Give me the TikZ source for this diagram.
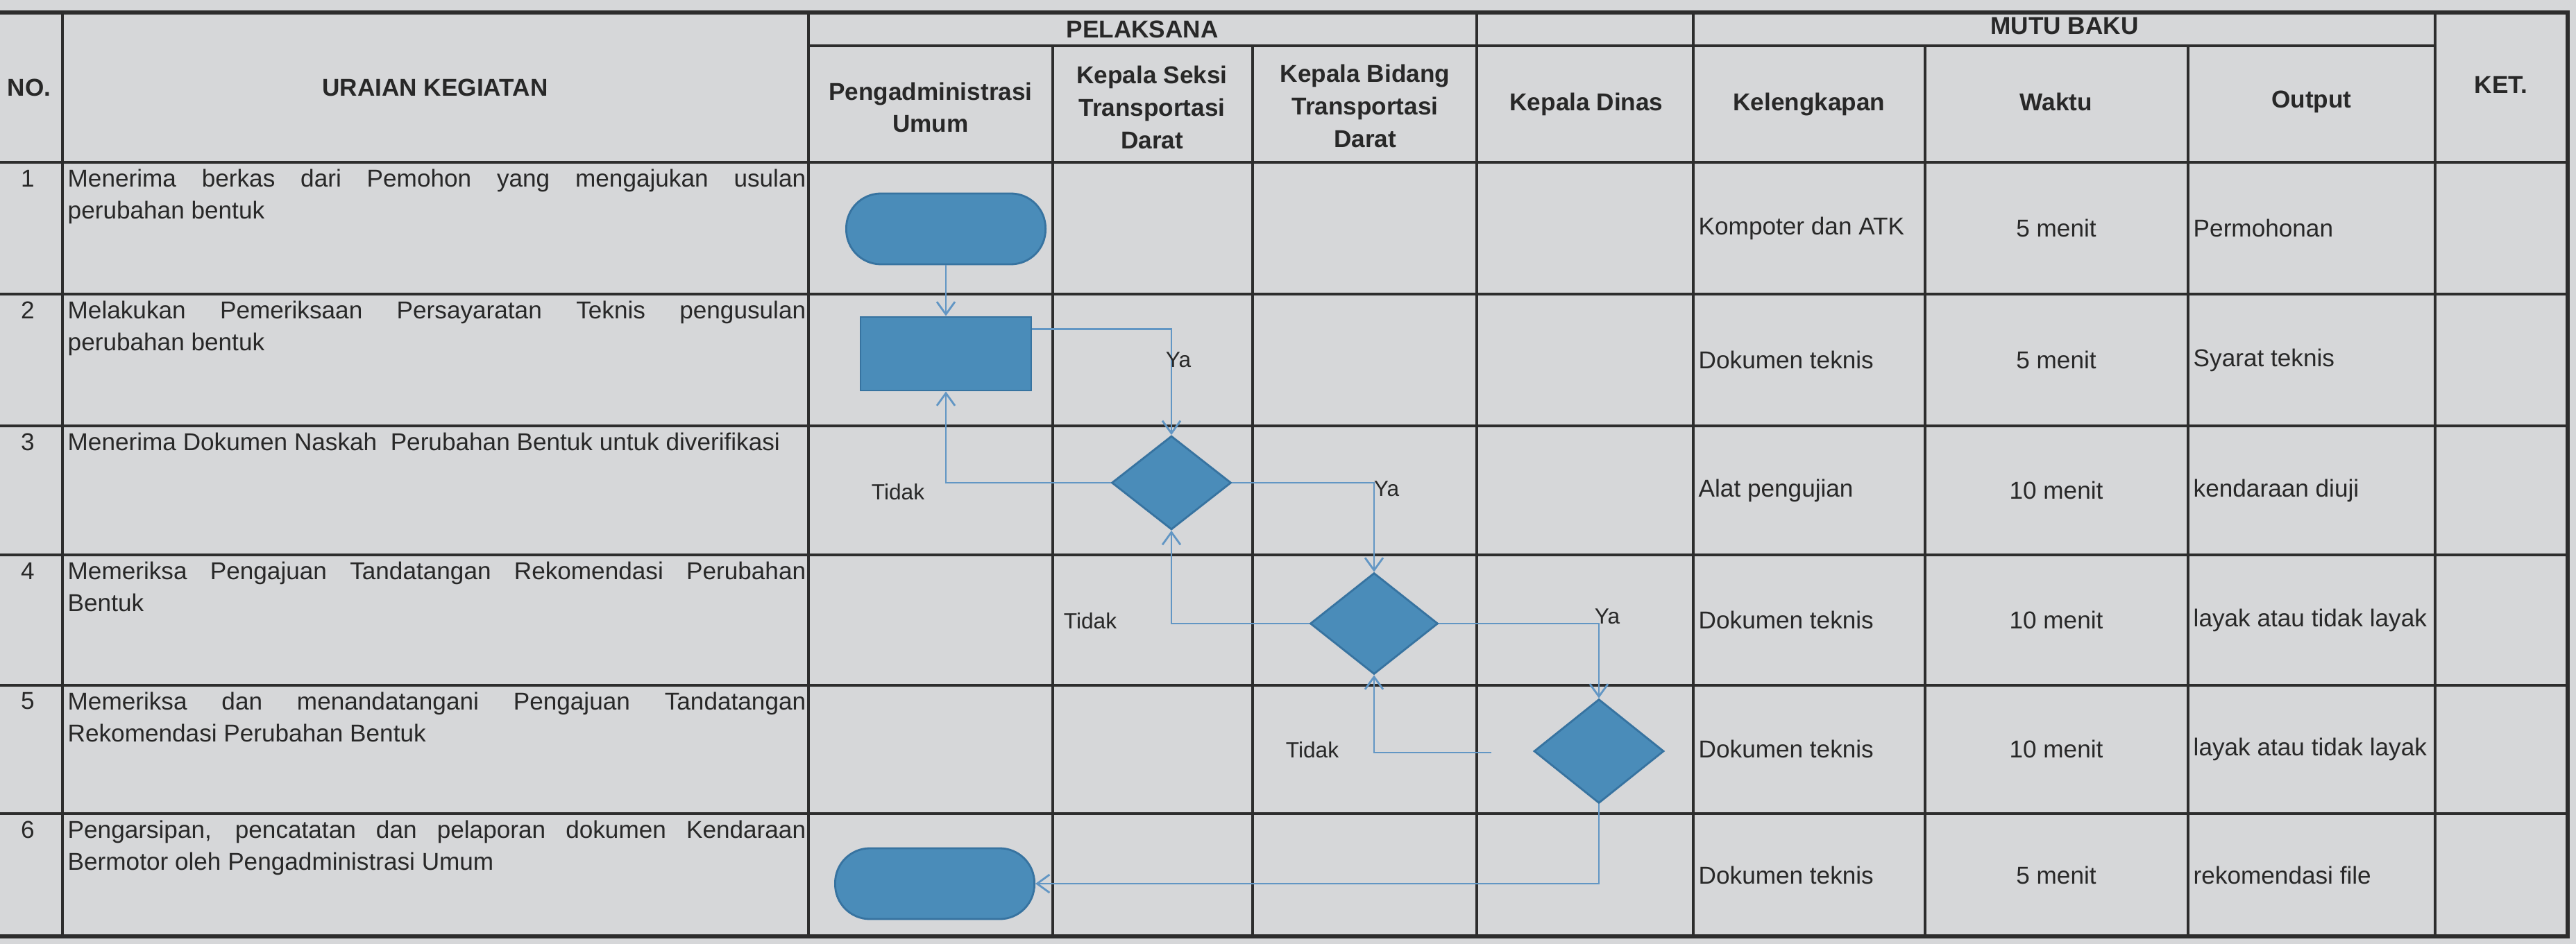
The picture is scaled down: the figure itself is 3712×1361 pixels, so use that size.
\documentclass[tikz,border=0pt]{standalone}
\usepackage{fontspec}
\setmainfont{Liberation Sans}
\usetikzlibrary{shapes.geometric,arrows.meta}
\definecolor{paper}{RGB}{214,215,217}
\definecolor{grid}{RGB}{45,45,45}
\definecolor{ink}{RGB}{40,40,40}
\definecolor{boxfill}{RGB}{74,140,185}
\definecolor{boxline}{RGB}{55,115,160}
\definecolor{wire}{RGB}{98,150,196}

\begin{document}
\begin{tikzpicture}[x=0.01cm, y=-0.01cm,
		tbl/.style={grid, line width=1pt},
		frame/.style={grid, line width=1.8pt},
		hd/.style={font=\fontsize{10}{13.3}\selectfont\bfseries, text=ink, align=center, inner sep=0pt},
		txt/.style={font=\fontsize{10}{13.3}\selectfont, text=ink, inner sep=0pt},
		uraian/.style={txt, anchor=north west, text width=10.63cm, align=justify},
		term/.style={draw=boxline, fill=boxfill, line width=0.8pt, rounded corners=0.5cm, minimum width=2.87cm, minimum height=1.02cm, inner sep=0pt},
		proc/.style={draw=boxline, fill=boxfill, line width=0.8pt, minimum width=2.46cm, minimum height=1.06cm, inner sep=0pt},
		dec/.style={diamond, draw=boxline, fill=boxfill, line width=0.8pt, inner sep=0pt},
		flow/.style={wire, line width=0.8pt, -{Straight Barb[length=0.18cm, width=0.26cm]}},
		lbl/.style={font=\fontsize{9}{11}\selectfont, text=ink, inner sep=0pt}]
		\useasboundingbox (0,0) rectangle (3712,1361);
		\fill[paper] (0,0) rectangle (3712,1361);
		% Table grid:
		\foreach \y in {234,424,614,800,988,1173} \draw[tbl] (-10,\y) -- (3700,\y);
		\draw[tbl] (1165,66) -- (3509,66);
		\foreach \x in {90,1165,2128,2440,3509} \draw[tbl] (\x,18) -- (\x,1350);
		\foreach \x in {1517,1805,2774,3153} \draw[tbl] (\x,66) -- (\x,1350);
		\draw[frame] (-10,18) -- (3700,18) -- (3700,1350) -- (-10,1350);
		% Header cells:
		\node[hd] (no) at (42,126) {NO.};
		\node[hd] (uraian) at (627,126) {URAIAN KEGIATAN};
		\node[hd] (pelaksana) at (1646,42) {PELAKSANA};
		\node[hd] (admin) at (1341,155) {Pengadministrasi\\Umum};
		\node[hd] (seksi) at (1660,155) {Kepala Seksi\\Transportasi\\Darat};
		\node[hd] (bidang) at (1967,153) {Kepala Bidang\\Transportasi\\Darat};
		\node[hd] (dinas) at (2286,150) {Kepala Dinas};
		\node[hd] (mutu) at (2975,38) {MUTU BAKU};
		\node[hd] (lengkap) at (2607,150) {Kelengkapan};
		\node[hd] (waktu) at (2963,147) {Waktu};
		\node[hd] (output) at (3331,147) {Output};
		\node[hd] (ket) at (3604,122) {KET.};
		% Rows:
		\foreach \t [count=\i] in {234,424,614,800,988,1173}
			\node[txt] (n\i) at (40,\t+23) {\i};
		\node[uraian] (u1) at (97,243) {Menerima berkas dari Pemohon yang mengajukan usulan\linebreak perubahan bentuk};
		\node[uraian] (u2) at (97,433) {Melakukan Pemeriksaan Persayaratan Teknis pengusulan\linebreak perubahan bentuk};
		\node[uraian] (u3) at (97,623) {Menerima Dokumen Naskah\ \ Perubahan Bentuk untuk diverifikasi};
		\node[uraian] (u4) at (97,809) {Memeriksa Pengajuan Tandatangan Rekomendasi Perubahan\linebreak Bentuk};
		\node[uraian] (u5) at (97,997) {Memeriksa dan menandatangani Pengajuan Tandatangan\linebreak Rekomendasi Perubahan Bentuk};
		\node[uraian] (u6) at (97,1182) {Pengarsipan, pencatatan dan pelaporan dokumen Kendaraan\linebreak Bermotor oleh Pengadministrasi Umum};
		\foreach \y/\k/\w/\o [count=\i] in {329/Kompoter dan ATK/5 menit/Permohonan,
				519/Dokumen teknis/5 menit/Syarat teknis,
				707/Alat pengujian/10 menit/kendaraan diuji,
				894/Dokumen teknis/10 menit/layak atau tidak layak,
				1080/Dokumen teknis/10 menit/layak atau tidak layak,
				1262/Dokumen teknis/5 menit/rekomendasi file} {
			\node[txt, anchor=west] (kl\i) at (2447,\y) {\k};
			\node[txt] (wk\i) at (2963,\y) {\w};
			\node[txt, anchor=west] (op\i) at (3160,\y) {\o};
		}
		% Flow shapes:
		\node[term] (mulai) at (1363,330) {};
		\node[proc] (periksa) at (1363,510) {};
		\node[dec, minimum width=1.72cm, minimum height=1.35cm] (cek1) at (1688,696) {};
		\node[dec, minimum width=1.84cm, minimum height=1.46cm] (cek2) at (1980,899) {};
		\node[dec, minimum width=1.87cm, minimum height=1.50cm] (cek3) at (2304,1083) {};
		\node[term] (selesai) at (1347,1274) {};
		\coordinate (balik3) at (2149,1085);
		% Connectors:
		\draw[flow] (mulai) -- (periksa);
		\draw[flow] ([yshift=-0.19cm]periksa.north east) -| (cek1.north);
		\draw[flow] (cek1.west) -| (periksa.south);
		\draw[flow] (cek1.east) -| (cek2.north);
		\draw[flow] (cek2.west) -| (cek1.south);
		\draw[flow] (cek2.east) -| (cek3.north);
		\draw[flow] (balik3) -| (cek2.south);
		\draw[flow] (cek3.south) |- (selesai.east);
		% Labels:
		\node[lbl] (ya1) at (1698,519) {Ya};
		\node[lbl] (ya2) at (1998,705) {Ya};
		\node[lbl] (ya3) at (2316,889) {Ya};
		\node[lbl] (tidak1) at (1294,709) {Tidak};
		\node[lbl] (tidak2) at (1571,895) {Tidak};
		\node[lbl] (tidak3) at (1891,1081) {Tidak};
	\end{tikzpicture}
\end{document}
